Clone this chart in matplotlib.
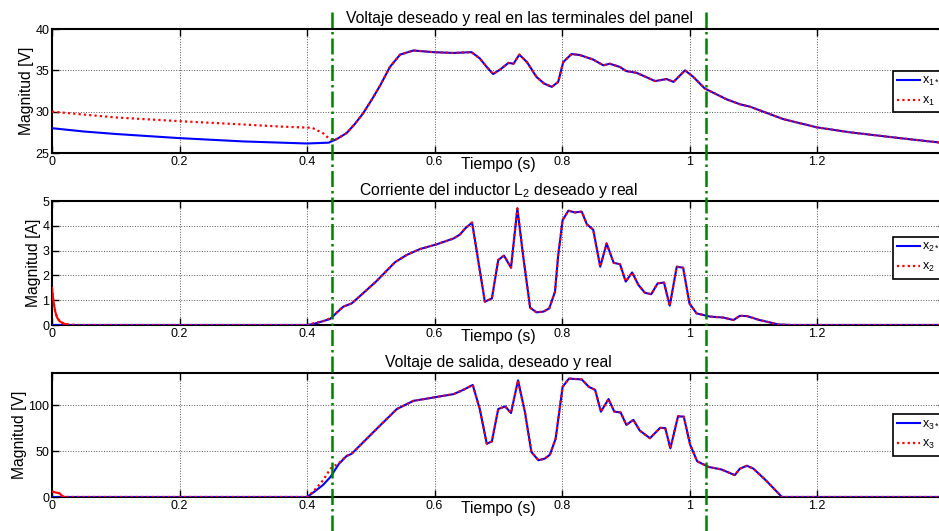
import numpy as np
import matplotlib
matplotlib.use('Agg')
import matplotlib.pyplot as plt

plt.rcParams['font.family'] = ['Liberation Sans', 'DejaVu Sans']
plt.rcParams['mathtext.fontset'] = 'custom'
plt.rcParams['mathtext.rm'] = 'Liberation Sans'
plt.rcParams['mathtext.it'] = 'Liberation Sans:italic'

# ---- panel 1: panel voltage ----
t1 = [0, 0.05, 0.1, 0.2, 0.3, 0.4, 0.434, 0.447, 0.462, 0.475, 0.488, 0.502, 0.515, 0.53, 0.546,
      0.567, 0.598, 0.63, 0.658, 0.671, 0.682, 0.692, 0.703, 0.716, 0.724, 0.733, 0.745, 0.76,
      0.772, 0.784, 0.794, 0.802, 0.815, 0.828, 0.849, 0.865, 0.875, 0.891, 0.901, 0.917, 0.933,
      0.946, 0.964, 0.975, 0.993, 1.006, 1.024, 1.058, 1.079, 1.095, 1.147, 1.2, 1.252, 1.33, 1.4]
x1s = [28.0, 27.6, 27.3, 26.8, 26.4, 26.15, 26.25, 26.7, 27.4, 28.5, 29.8, 31.5, 33.2, 35.4, 36.9,
       37.4, 37.2, 37.1, 37.2, 36.45, 35.4, 34.55, 35.1, 35.9, 35.8, 36.9, 36.0, 34.2,
       33.4, 33.0, 33.6, 36.0, 36.97, 36.85, 36.3, 35.6, 35.8, 35.4, 34.9, 34.7, 34.15,
       33.7, 33.95, 33.6, 35.0, 34.2, 32.8, 31.5, 30.9, 30.6, 29.1, 28.1, 27.5, 26.8, 26.2]
t1_start = [0, 0.05, 0.1, 0.2, 0.3, 0.358, 0.408, 0.425, 0.434, 0.441]
x1_start = [30.0, 29.65, 29.3, 28.85, 28.45, 28.2, 28.05, 27.4, 26.8, 26.5]

# ---- panel 2: inductor current ----
t2 = [0, 0.4, 0.41, 0.436, 0.457, 0.47, 0.488, 0.509, 0.538, 0.556, 0.577, 0.603, 0.63, 0.64,
      0.648, 0.659, 0.679, 0.69, 0.7, 0.709, 0.72, 0.73, 0.739, 0.75, 0.76, 0.771, 0.78, 0.789,
      0.794, 0.801, 0.81, 0.82, 0.831, 0.839, 0.849, 0.86, 0.87, 0.881, 0.891, 0.9, 0.91, 0.92,
      0.93, 0.94, 0.95, 0.96, 0.969, 0.98, 0.99, 1.0, 1.011, 1.032, 1.053, 1.069, 1.079, 1.09,
      1.11, 1.14, 1.16, 1.4]
x2s = [0, 0, 0.04, 0.24, 0.74, 0.87, 1.28, 1.77, 2.53, 2.82, 3.06, 3.25, 3.49, 3.65,
       3.89, 4.13, 0.94, 1.07, 2.62, 2.8, 2.31, 4.7, 2.8, 0.7, 0.51, 0.54, 0.67, 1.34,
       2.8, 4.23, 4.61, 4.54, 4.57, 4.06, 3.84, 2.35, 3.29, 2.51, 2.45, 1.75, 2.12, 1.61,
       1.3, 1.24, 1.68, 1.71, 0.78, 2.35, 2.31, 0.87, 0.47, 0.34, 0.3, 0.2, 0.37, 0.36,
       0.2, 0.02, 0, 0]
t2_start = [0, 0.002, 0.005, 0.008, 0.012, 0.018, 0.025, 0.04, 0.4, 0.41, 0.425, 0.436]
x2_start = [1.5, 1.0, 0.55, 0.3, 0.15, 0.06, 0.02, 0, 0, 0.07, 0.15, 0.27]

# ---- panel 3: output voltage ----
t3 = [0, 0.4, 0.41, 0.425, 0.437, 0.45, 0.462, 0.47, 0.483, 0.509, 0.541, 0.567, 0.598, 0.63,
      0.645, 0.66, 0.671, 0.682, 0.69, 0.7, 0.711, 0.72, 0.731, 0.742, 0.752, 0.763, 0.773,
      0.781, 0.79, 0.801, 0.811, 0.831, 0.842, 0.852, 0.861, 0.873, 0.882, 0.892, 0.901, 0.912,
      0.922, 0.938, 0.954, 0.962, 0.97, 0.982, 0.991, 1.001, 1.012, 1.03, 1.05, 1.071, 1.079,
      1.09, 1.1, 1.12, 1.145, 1.4]
x3s = [0, 0, 5, 13, 22, 36, 44.6, 47, 56, 74, 95.8, 104.7, 108.3, 112,
       116.6, 122, 95.8, 58, 60.5, 95.8, 98.6, 91.4, 127, 92, 49, 40, 41.8,
       46, 63.4, 120, 128.9, 128, 120, 116.6, 92.9, 106.6, 93, 92, 78.5, 84,
       72.3, 64, 75.3, 75, 53, 87.8, 87.5, 57, 38.9, 32.7, 30, 23.8, 30.8,
       34, 31, 18, 0, 0]
t3_start = [0, 0.005, 0.012, 0.016, 0.02, 0.4, 0.41, 0.425, 0.437, 0.45]
x3_start = [6, 5, 4, 1, 0, 0, 6, 18, 31, 37]

t_switch = [0.439, 1.026]

panels = [
    (t1, x1s, t1_start, x1_start, 'Voltaje deseado y real en las terminales del panel',
     'Magnitud [V]', (25, 40), [25, 30, 35, 40], '1'),
    (t2, x2s, t2_start, x2_start, r'Corriente del inductor L$_\mathregular{2}$ deseado y real',
     'Magnitud [A]', (0, 5), [0, 1, 2, 3, 4, 5], '2'),
    (t3, x3s, t3_start, x3_start, 'Voltaje de salida, deseado y real',
     'Magnitud [V]', (0, 135), [0, 50, 100], '3'),
]
leg_top = [0.664, 0.71, 0.669]
title_x = [0.524, 0.5, 0.5]
bottoms = [1 - 153 / 531, 1 - 325 / 531, 1 - 497 / 531]

W, H = 939, 531
fig = plt.figure(figsize=(W / 100, H / 100), dpi=100)
left = 52 / W
width = 892.5 / W
height = 124 / H

for i, (t, xs, ts, xst, title, ylab, ylim, yt, k) in enumerate(panels):
    ax = fig.add_axes([left, bottoms[i], width, height])
    t = np.array(t)
    xs = np.array(xs)
    # real signal: transient start, then it follows the reference
    tail = t > ts[-1]
    tr = np.concatenate([ts, t[tail]])
    xr = np.concatenate([xst, xs[tail]])
    ax.plot(t, xs, color='#0000ff', lw=1.5, label=r'x$_\mathregular{%s*}$' % k, zorder=3)
    ax.plot(tr, xr, color='#ff0000', lw=1.6, ls=(0, (1, 1.4)), label=r'x$_\mathregular{%s}$' % k, zorder=4)
    if i > 0:
        sp = np.array(ts) < 0.03
        ax.plot(np.array(ts)[sp], np.array(xst)[sp], color='#ff0000', lw=1.5, zorder=4)
    ax.set_xlim(0, 1.4)
    ax.set_ylim(*ylim)
    ax.set_yticks(yt)
    ax.set_xticks([0, 0.2, 0.4, 0.6, 0.8, 1.0, 1.2])
    ax.set_xticklabels(['0', '0.2', '0.4', '0.6', '0.8', '1', '1.2'])
    ax.tick_params(direction='in', length=5, width=1, labelsize=9, pad=2, top=True, right=True)
    ax.grid(True, ls=':', color='#555555', lw=0.7)
    for s in ax.spines.values():
        s.set_linewidth(1.5)
    ax.set_title(title, fontsize=11.3, pad=4, x=title_x[i])
    ax.set_ylabel(ylab, fontsize=11.3, labelpad=1)
    ax.set_xlabel('Tiempo (s)', fontsize=11.3, labelpad=-8)
    leg = ax.legend(loc='upper left', bbox_to_anchor=(0.942, leg_top[i]), borderaxespad=0,
                    fontsize=9, handlelength=1.8, handletextpad=0.2, fancybox=False,
                    framealpha=1, edgecolor='black', borderpad=0.35, labelspacing=0.55)
    leg.get_frame().set_linewidth(1.2)

# switching instants drawn across all panels
ov = fig.add_axes([left, 0, width, 1 - 12 / H])
ov.set_xlim(0, 1.4)
ov.set_ylim(0, 1)
ov.axis('off')
for ts_ in t_switch:
    ov.axvline(ts_, color='#008000', lw=1.8, ls='-.')

fig.savefig('out.png', dpi=100)
